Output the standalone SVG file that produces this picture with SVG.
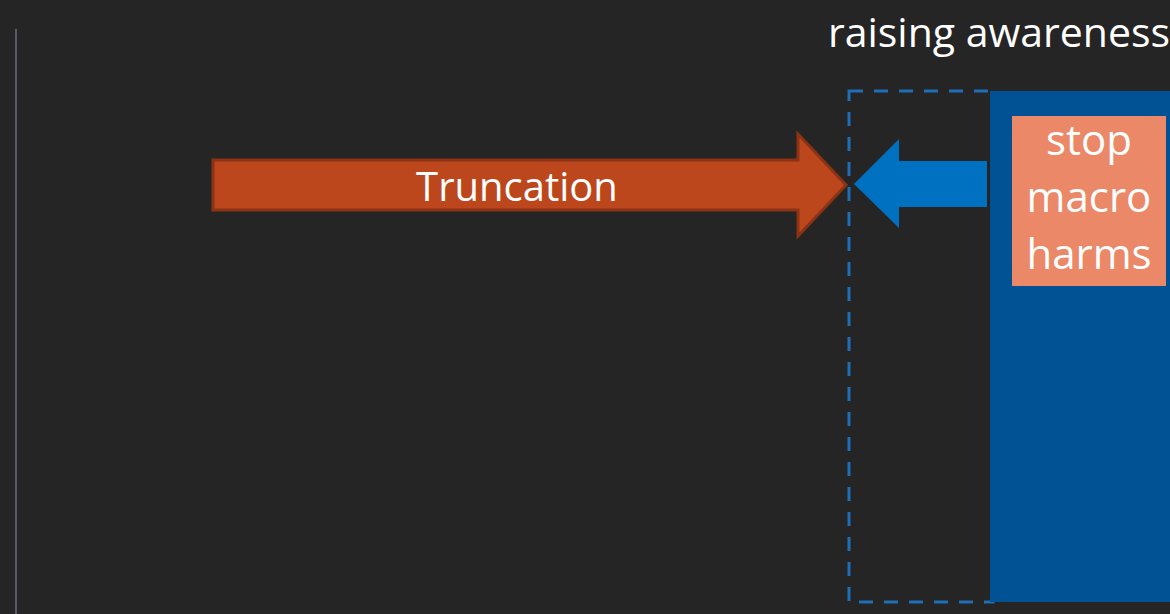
<svg xmlns="http://www.w3.org/2000/svg" width="1170" height="614" viewBox="0 0 1170 614">
<style>
.t{font-family:"Open Sans","Noto Sans","Liberation Sans",sans-serif;fill:#ffffff;text-anchor:middle}
</style>
<rect x="0" y="0" width="1170" height="614" fill="#252525"/>
<line x1="16" y1="29" x2="16" y2="614" stroke="#5a5a66" stroke-width="2"/>
<text class="t" x="999" y="47" font-size="41">raising awareness</text>
<g id="awareness-zone">
<rect x="849" y="91" width="144" height="511" fill="none" stroke="#1f6fb8" stroke-width="3" stroke-dasharray="14 11"/>
</g>
<g id="macro-panel">
<rect x="990" y="91" width="180" height="511" fill="#005294"/>
<rect x="1012" y="116" width="154" height="170" fill="#EA8868"/>
<text class="t" x="1089" y="155" font-size="42">stop</text>
<text class="t" x="1089" y="212" font-size="42">macro</text>
<text class="t" x="1089" y="269" font-size="42">harms</text>
</g>
<g id="connectors">
<g id="truncation">
<polygon points="213,160 798,160 798,134 846,185 798,236 798,210 213,210" fill="#BC471C" stroke="#8B3314" stroke-width="3" stroke-linejoin="miter"/>
<text class="t" x="517" y="201" font-size="40">Truncation</text>
</g>
<g id="pushback">
<polygon points="854,184 899,139 899,161 987,161 987,207 899,207 899,228" fill="#0070C0"/>
</g>
</g>
</svg>
